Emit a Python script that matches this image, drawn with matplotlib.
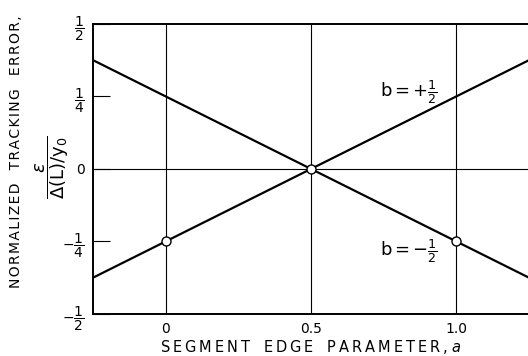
import numpy as np
import matplotlib.pyplot as plt

# segment edge parameter and normalized tracking error for the two b values
a = [-0.25, 0.0, 0.5, 1.0, 1.25]
err_b_pos = [-0.375, -0.25, 0.0, 0.25, 0.375]   # b = +1/2
err_b_neg = [0.375, 0.25, 0.0, -0.25, -0.375]   # b = -1/2

# open circles marked on the lines
pts_a = [0.0, 0.5, 1.0]
pts_err = [-0.25, 0.0, -0.25]

yticks = [-0.5, -0.25, 0.0, 0.25, 0.5]
ytick_labels = [r'$-\dfrac{1}{2}$', r'$-\dfrac{1}{4}$', '0', r'$\dfrac{1}{4}$', r'$\dfrac{1}{2}$']
xticks = [0.0, 0.5, 1.0]
xtick_labels = ['0', '0.5', '1.0']


def spaced(words, gap):
    # letter-spaced caps, words separated by wider gaps
    return '   '.join(gap.join(w) for w in words.split())


fig = plt.figure(figsize=(5.28, 3.56), dpi=100)
ax = fig.add_axes([0.176, 0.118, 0.826, 0.815])

# reference grid lines
for x in xticks:
    ax.axvline(x, color='black', lw=0.8, zorder=1)
ax.axhline(0, color='black', lw=0.8, zorder=1)

ax.plot(a, err_b_pos, color='black', lw=1.6, zorder=2)
ax.plot(a, err_b_neg, color='black', lw=1.6, zorder=2)
ax.plot(pts_a, pts_err, 'o', ms=6.5, mfc='white', mec='black', mew=1.0, zorder=3)

ax.text(0.835, 0.265, r'b$\,$=$\,$+$\frac{1}{2}$', fontsize=13, ha='center', va='center')
ax.text(0.835, -0.283, r'b$\,$=$\,$$-\frac{1}{2}$', fontsize=13, ha='center', va='center')

ax.set_xlim(-0.25, 1.25)
ax.set_ylim(-0.5, 0.5)
ax.set_xticks(xticks)
ax.set_xticklabels(xtick_labels, fontsize=10)
ax.set_yticks(yticks)
ax.set_yticklabels(ytick_labels, fontsize=10)
ax.tick_params(axis='x', length=0, pad=6)
ax.tick_params(axis='y', direction='in', length=12, width=0.8, pad=6)
for side in ['left', 'top', 'bottom']:
    ax.spines[side].set_linewidth(1.4)
ax.spines['right'].set_visible(False)

ax.set_xlabel(spaced('SEGMENT EDGE PARAMETER,', '\u2009') + r' $\mathit{a}$',
              fontsize=10.5, labelpad=1)
fig.text(0.03, 0.573, spaced('NORMALIZED TRACKING ERROR,', '\u200a'),
         rotation=90, ha='center', va='center', fontsize=10)
fig.text(0.098, 0.53, r'$\dfrac{\epsilon}{\Delta(\mathrm{L})/\mathrm{y_0}}$', rotation=90,
         ha='center', va='center', fontsize=13)

fig.savefig('out.png', dpi=100)
